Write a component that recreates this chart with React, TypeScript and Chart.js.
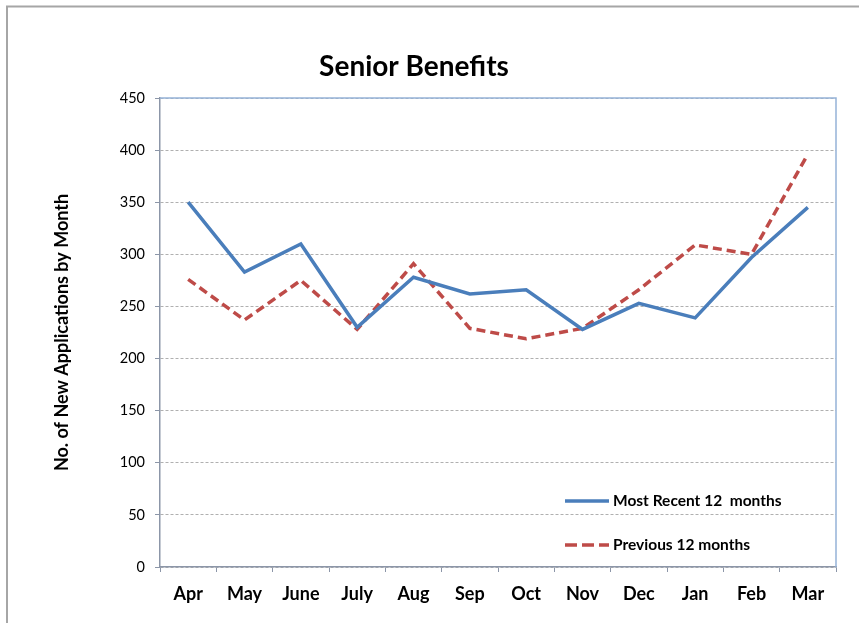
import React, { useEffect, useRef } from "react";
import { Chart, registerables } from "chart.js";

Chart.register(...registerables);

const months = ["Apr", "May", "June", "July", "Aug", "Sep", "Oct", "Nov", "Dec", "Jan", "Feb", "Mar"];
const mostRecent = [350, 283, 310, 230, 278, 262, 266, 228, 253, 239, 297, 345];
const previous = [276, 237, 275, 228, 291, 229, 219, 229, 266, 309, 300, 396];
const yTicks = [0, 50, 100, 150, 200, 250, 300, 350, 400, 450];

const chartTitle = "Senior Benefits";
const yTitle = "No. of New Applications by Month";
const seriesNames = ["Most Recent 12  months", "Previous 12 months"];

const FONT = "Lato, 'Open Sans', sans-serif";
const BLUE = "#4A7EBB";
const RED = "#BE4B48";

const decorPlugin = {
  id: "decor",
  beforeDraw(chart: any) {
    const ctx = chart.ctx;
    ctx.save();
    ctx.strokeStyle = "#A6A6A6";
    ctx.lineWidth = 2;
    ctx.beginPath();
    ctx.moveTo(7, 623);
    ctx.lineTo(7, 6.5);
    ctx.lineTo(859, 6.5);
    ctx.stroke();
    ctx.restore();
  },
  afterDraw(chart: any) {
    const ctx = chart.ctx;
    const a = chart.chartArea;
    ctx.save();
    ctx.strokeStyle = "#95B3D7";
    ctx.lineWidth = 1.5;
    ctx.beginPath();
    ctx.moveTo(a.left, a.top);
    ctx.lineTo(a.right, a.top);
    ctx.lineTo(a.right, a.bottom);
    ctx.stroke();

    ctx.fillStyle = "#000";
    ctx.font = `bold 28px ${FONT}`;
    ctx.textAlign = "center";
    ctx.textBaseline = "middle";
    ctx.fillText(chartTitle, 414, 67);

    const items = [
      { label: chart.data.datasets[0].label, color: BLUE, dash: [] as number[], y: 501 },
      { label: chart.data.datasets[1].label, color: RED, dash: [12, 5], y: 545 },
    ];
    ctx.font = `bold 15.5px ${FONT}`;
    ctx.textAlign = "left";
    for (const it of items) {
      ctx.strokeStyle = it.color;
      ctx.lineWidth = 3.5;
      ctx.setLineDash(it.dash);
      ctx.beginPath();
      ctx.moveTo(565, it.y);
      ctx.lineTo(609, it.y);
      ctx.stroke();
      ctx.setLineDash([]);
      ctx.fillStyle = "#000";
      ctx.fillText(it.label, 613, it.y);
    }
    ctx.restore();
  },
};

export default function App() {
  const ref = useRef<HTMLCanvasElement | null>(null);
  useEffect(() => {
    if (!ref.current) return;
    const chart = new Chart(ref.current, {
      type: "line",
      data: {
        labels: months,
        datasets: [
          {
            label: seriesNames[0],
            data: mostRecent,
            borderColor: BLUE,
            borderWidth: 3.5,
            pointRadius: 0,
            tension: 0,
            fill: false,
          },
          {
            label: seriesNames[1],
            data: previous,
            borderColor: RED,
            borderWidth: 3.5,
            borderDash: [9, 5],
            pointRadius: 0,
            tension: 0,
            fill: false,
          },
        ],
      },
      options: {
        animation: false,
        responsive: false,
        devicePixelRatio: 1,
        layout: { padding: { top: 98, right: 23, bottom: 0, left: 0 } },
        plugins: {
          legend: { display: false },
          title: { display: false },
          tooltip: { enabled: false },
        },
        scales: {
          x: {
            offset: true,
            afterFit: (s: any) => {
              s.height = 56;
            },
            grid: {
              offset: true,
              drawOnChartArea: false,
              drawTicks: true,
              tickLength: 5,
              tickColor: "#8C96A8",
              tickWidth: 1,
            },
            border: { color: "#8C96A8", width: 1.5 },
            ticks: {
              color: "#000",
              font: { family: FONT, size: 18, weight: "bold" },
              padding: 11,
              maxRotation: 0,
              autoSkip: false,
            },
          },
          y: {
            min: 0,
            max: 450,
            afterFit: (s: any) => {
              s.width = 160;
            },
            afterBuildTicks: (s: any) => {
              s.ticks = yTicks.map((v) => ({ value: v }));
            },
            grid: {
              color: "#B0B0B0",
              lineWidth: 1,
              drawTicks: true,
              tickLength: 5,
              tickColor: "#8C96A8",
              tickBorderDash: [],
            },
            border: { color: "#8C96A8", width: 1.5, dash: [3, 2] },
            ticks: {
              color: "#000",
              font: { family: FONT, size: 14.5 },
              padding: 10,
            },
            title: {
              display: true,
              text: yTitle,
              color: "#000",
              font: { family: FONT, size: 18, weight: "bold" },
              padding: { top: 51, bottom: 0 },
            },
          },
        },
      },
      plugins: [decorPlugin],
    });
    return () => chart.destroy();
  }, []);
  return (
    <div style={{ position: "absolute", left: 0, top: 0, width: 859, height: 623, background: "#fff" }}>
      <canvas ref={ref} width={859} height={623} style={{ display: "block" }} />
    </div>
  );
}
